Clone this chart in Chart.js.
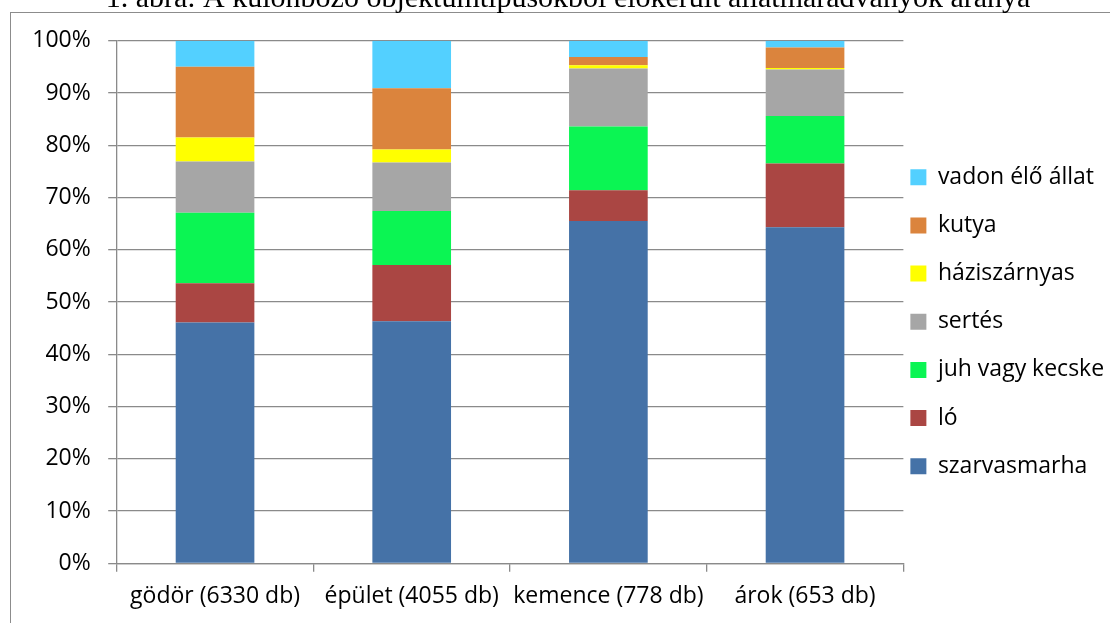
<!DOCTYPE html>
<html>
<head>
<meta charset="utf-8">
<script src="https://cdn.jsdelivr.net/npm/chart.js@4/dist/chart.umd.min.js"></script>
<style>
  html, body { margin: 0; padding: 0; background: #ffffff; overflow: hidden; }
  #wrap { position: relative; width: 1110px; height: 623px; }
  #frame {
    position: absolute; left: 10px; top: 12px; width: 1200px; height: 700px;
    border: 1.5px solid #8c8c8c; box-sizing: border-box;
  }
  #chart { position: absolute; left: 0; top: 0; }
</style>
</head>
<body>
<div id="wrap">
  <div id="frame"></div>
  <canvas id="chart" width="1110" height="623"></canvas>
</div>
<script>
// Figure caption
const figureTitle = '1. ábra: A különböző objektumtípusokból előkerült állatmaradványok aránya';

// Feature types (with number of finds)
const categories = ['gödör (6330 db)', 'épület (4055 db)', 'kemence (778 db)', 'árok (653 db)'];

// Share of each species per feature type, in percent (bottom to top of the stack)
const szarvasmarha  = [46.1, 46.3, 65.5, 64.3];
const lo            = [7.5, 10.8, 5.9, 12.2];
const juhVagyKecske = [13.5, 10.3, 12.2, 9.1];
const sertes        = [9.8, 9.3, 11.1, 8.9];
const haziszarnyas  = [4.6, 2.5, 0.6, 0.3];
const kutya         = [13.5, 11.7, 1.6, 3.9];
const vadonEloAllat = [5.0, 9.1, 3.1, 1.3];

const seriesNames  = ['szarvasmarha', 'ló', 'juh vagy kecske', 'sertés', 'háziszárnyas', 'kutya', 'vadon élő állat'];
const seriesValues = [szarvasmarha, lo, juhVagyKecske, sertes, haziszarnyas, kutya, vadonEloAllat];
const seriesColors = ['#4572A7', '#AA4643', '#0BF553', '#A6A6A6', '#FFFF00', '#DB843D', '#53D0FF'];

// Percent axis
const yMin = 0, yMax = 100, yStep = 10;

const axisGrey = '#8a8a8a';
const textFont = { family: '"Open Sans"', size: 23 };

Chart.defaults.font.family = textFont.family;
Chart.defaults.font.size = textFont.size;
Chart.defaults.color = '#000000';

const legendBox = 16, legendPad = 7;

const captionPlugin = {
  id: 'caption',
  afterDraw(chart) {
    const ctx = chart.ctx;
    ctx.save();
    ctx.font = '30px "Liberation Serif"';
    ctx.fillStyle = '#000000';
    ctx.textAlign = 'center';
    ctx.textBaseline = 'alphabetic';
    ctx.fillText(figureTitle, 568, 7);
    ctx.restore();
  }
};

new Chart(document.getElementById('chart'), {
  type: 'bar',
  data: {
    labels: categories,
    datasets: seriesNames.map((name, i) => ({
      label: name,
      data: seriesValues[i],
      backgroundColor: seriesColors[i],
      borderWidth: 0,
      barPercentage: 0.4,
      categoryPercentage: 1.0
    }))
  },
  options: {
    responsive: false,
    animation: false,
    devicePixelRatio: 1,
    // the legend's right margin runs a few pixels past the canvas edge (empty space only)
    layout: { padding: { left: 0, top: 40.7, right: -4.1, bottom: 2.1 } },
    plugins: {
      tooltip: { enabled: false },
      title: { display: false },
      legend: {
        position: 'right',
        reverse: true,
        labels: {
          boxWidth: legendBox,
          boxHeight: legendBox,
          padding: legendPad,
          color: '#000000',
          font: { family: textFont.family, size: textFont.size, lineHeight: 41.17 / textFont.size },
          generateLabels(chart) {
            const items = Chart.defaults.plugins.legend.labels.generateLabels(chart);
            return items.map(item => Object.assign(item, { text: [item.text], lineWidth: 0 }));
          }
        }
      }
    },
    scales: {
      x: {
        stacked: true,
        offset: true,
        grid: {
          offset: true,
          drawOnChartArea: false,
          drawTicks: true,
          tickLength: 8.5,
          color: axisGrey,
          lineWidth: 1.3
        },
        border: { display: true, color: axisGrey, width: 1.3 },
        ticks: { padding: 11, color: '#000000', font: textFont, maxRotation: 0, autoSkip: false },
        afterFit(scale) {
          scale.height = 57.6;
          scale.paddingLeft = 0;
          scale.paddingRight = 0;
        }
      },
      y: {
        stacked: true,
        min: yMin,
        max: yMax,
        grid: {
          drawTicks: true,
          tickLength: 8.5,
          color: axisGrey,
          lineWidth: 1.3
        },
        border: { display: true, color: axisGrey, width: 1.3 },
        ticks: {
          stepSize: yStep,
          padding: 17.5,
          color: '#000000',
          font: textFont,
          callback: v => v + '%'
        },
        afterFit(scale) {
          scale.width = 116.7;
          scale.paddingTop = 0;
          scale.paddingBottom = 0;
        }
      }
    }
  },
  plugins: [captionPlugin]
});
</script>
</body>
</html>
